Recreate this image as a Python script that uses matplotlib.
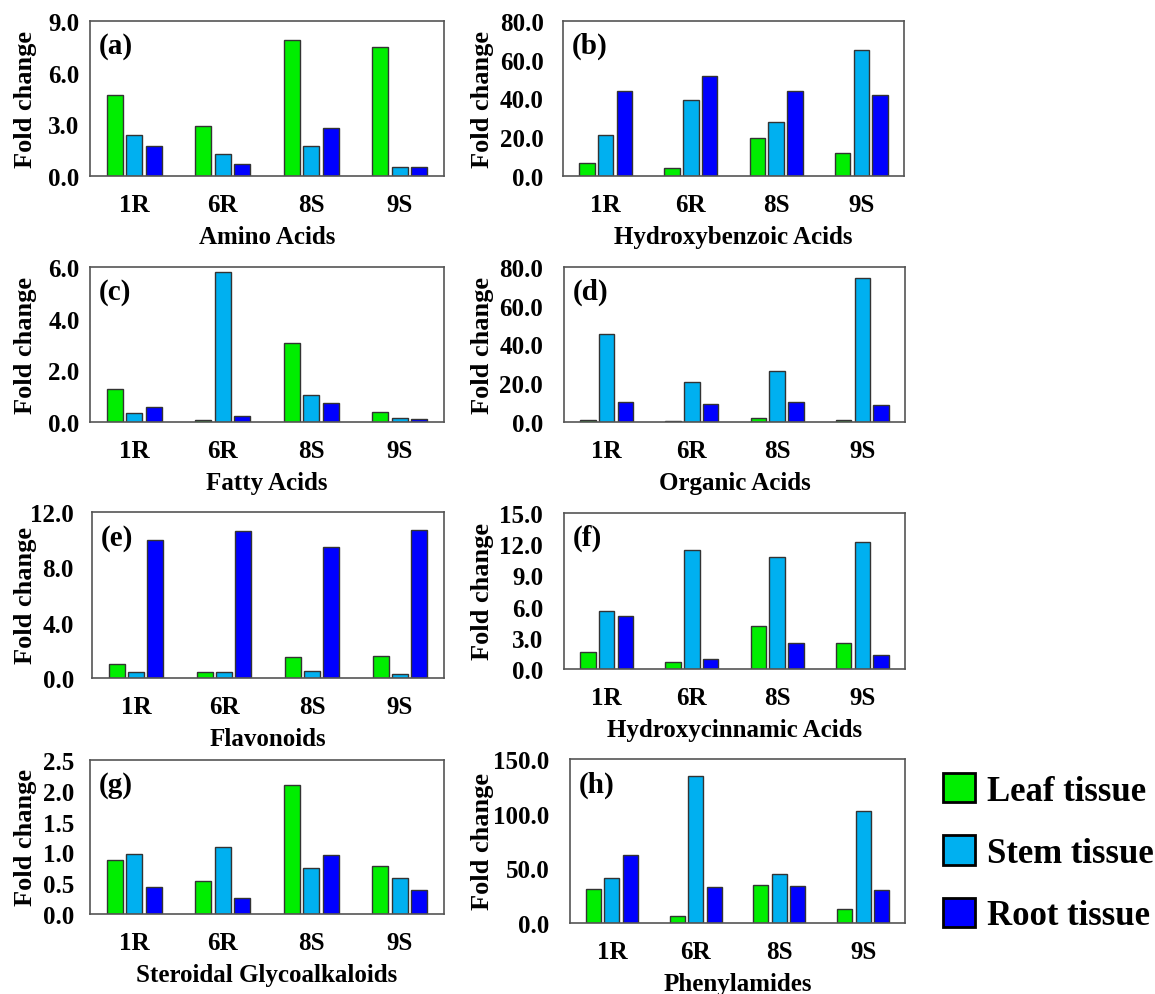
import numpy as np
import matplotlib.pyplot as plt
from matplotlib.patches import Patch

plt.rcParams['font.family'] = ['Liberation Serif', 'DejaVu Serif']
plt.rcParams['font.weight'] = 'bold'
plt.rcParams['axes.labelweight'] = 'bold'

linhas = ['1R', '6R', '8S', '9S']
tecidos = ['Leaf tissue', 'Stem tissue', 'Root tissue']
cores = ['#00ee00', '#00b0f0', '#0000ff']

# valores: folha, caule, raiz
amino_folha = [4.72, 2.88, 7.89, 7.49]
amino_caule = [2.40, 1.26, 1.72, 0.50]
amino_raiz = [1.74, 0.68, 2.77, 0.54]

hbenz_folha = [6.7, 4.0, 19.4, 11.7]
hbenz_caule = [21.2, 39.2, 27.9, 64.9]
hbenz_raiz = [44.1, 51.8, 43.7, 42.0]

gordos_folha = [1.27, 0.09, 3.06, 0.37]
gordos_caule = [0.33, 5.82, 1.04, 0.15]
gordos_raiz = [0.57, 0.23, 0.73, 0.10]

organ_folha = [1.2, 0.7, 2.1, 0.9]
organ_caule = [45.5, 20.5, 26.4, 74.1]
organ_raiz = [10.3, 9.1, 10.3, 8.6]

flav_folha = [1.02, 0.46, 1.55, 1.57]
flav_caule = [0.41, 0.46, 0.53, 0.27]
flav_raiz = [9.97, 10.6, 9.47, 10.68]

hcin_folha = [1.63, 0.64, 4.12, 2.49]
hcin_caule = [5.62, 11.4, 10.74, 12.2]
hcin_raiz = [5.11, 0.99, 2.46, 1.37]

sga_folha = [0.87, 0.54, 2.09, 0.78]
sga_caule = [0.98, 1.09, 0.75, 0.58]
sga_raiz = [0.44, 0.26, 0.96, 0.39]

fenil_folha = [30.8, 6.4, 34.8, 12.8]
fenil_caule = [40.9, 134.1, 44.5, 102.4]
fenil_raiz = [62.5, 33.2, 33.8, 30.5]

paineis = [
    ('(a)', 'Amino Acids', [amino_folha, amino_caule, amino_raiz], [0, 3, 6, 9]),
    ('(b)', 'Hydroxybenzoic Acids', [hbenz_folha, hbenz_caule, hbenz_raiz], [0, 20, 40, 60, 80]),
    ('(c)', 'Fatty Acids', [gordos_folha, gordos_caule, gordos_raiz], [0, 2, 4, 6]),
    ('(d)', 'Organic Acids', [organ_folha, organ_caule, organ_raiz], [0, 20, 40, 60, 80]),
    ('(e)', 'Flavonoids', [flav_folha, flav_caule, flav_raiz], [0, 4, 8, 12]),
    ('(f)', 'Hydroxycinnamic Acids', [hcin_folha, hcin_caule, hcin_raiz], [0, 3, 6, 9, 12, 15]),
    ('(g)', 'Steroidal Glycoalkaloids', [sga_folha, sga_caule, sga_raiz], [0, 0.5, 1.0, 1.5, 2.0, 2.5]),
    ('(h)', 'Phenylamides', [fenil_folha, fenil_caule, fenil_raiz], [0, 50, 100, 150]),
]

# caixas dos eixos em pixels: esquerda, topo, direita, baixo; pad dos rótulos y (pt)
caixas = [
    (90, 22, 444, 177, 7.5), (563, 22, 904, 177, 14),
    (90, 268, 444, 423, 7.5), (564, 268, 905, 423, 15),
    (92, 513, 444, 679, 13), (564, 514, 905, 670, 15),
    (90, 761, 444, 915, 11.5), (570, 760, 905, 924, 15),
]

W, H = 1155, 995
fig = plt.figure(figsize=(W / 100, H / 100), dpi=100)

x = np.arange(len(linhas))
largura = 0.18
passo = 0.22

for (rotulo, titulo, series, yt), (l, t, r, b, pady) in zip(paineis, caixas):
    ax = fig.add_axes([l / W, 1 - b / H, (r - l) / W, (b - t) / H])
    for k, serie in enumerate(series):
        ax.bar(x + (k - 1) * passo, serie, largura, color=cores[k],
               edgecolor='#333333', linewidth=1.0)
    ax.set_xlim(-0.5, 3.5)
    ax.set_ylim(0, yt[-1])
    ax.set_yticks(yt)
    ax.set_yticklabels(['%.1f' % v for v in yt])
    ax.set_xticks(x)
    ax.set_xticklabels(linhas)
    ax.tick_params(length=0, labelsize=18)
    ax.tick_params(axis='x', pad=12)
    ax.tick_params(axis='y', pad=pady)
    ax.set_xlabel(titulo, fontsize=18, labelpad=7)
    ax.set_ylabel('Fold change', fontsize=19)
    # posição do rótulo y fixa em pixels (borda direita do texto)
    xr = 37 if l < 300 else 494
    ax.yaxis.set_label_coords((xr - l) / (r - l), 0.5)
    for s in ax.spines.values():
        s.set_color('#555555')
        s.set_linewidth(1.2)
    ax.text(0.025, 0.93, rotulo, transform=ax.transAxes, fontsize=21,
            va='top', ha='left')

handles = [Patch(facecolor=c, edgecolor='black', linewidth=2) for c in cores]
fig.legend(handles, tecidos, loc='upper left',
           bbox_to_anchor=(943 / W, 1 - 774 / H), frameon=False,
           fontsize=25, handlelength=0.92, handleheight=0.92,
           handletextpad=0.35, labelspacing=0.8, borderpad=0,
           borderaxespad=0)

plt.savefig('out.png', dpi=100)
